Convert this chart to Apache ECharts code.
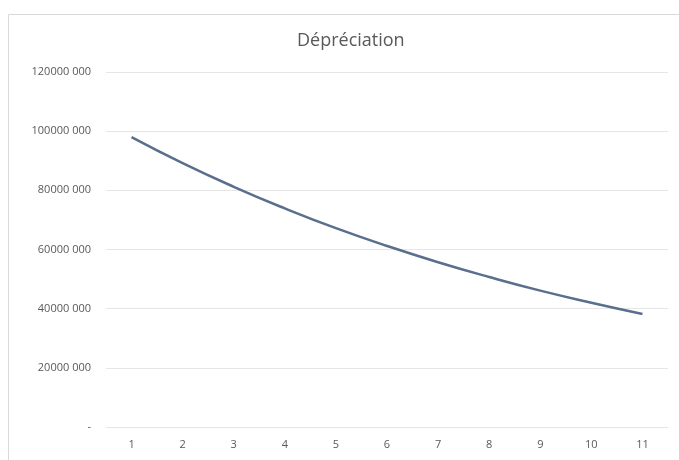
<!DOCTYPE html>
<html>
<head>
<meta charset="utf-8">
<script src="https://cdn.jsdelivr.net/npm/echarts@6/dist/echarts.min.js"></script>
<style>html,body{margin:0;padding:0;background:#fff;}#c{width:679px;height:460px;}</style>
</head>
<body>
<div id="c"></div>
<script>
var categories = ['1','2','3','4','5','6','7','8','9','10','11'];
var values = [98000000, 89200000, 81200000, 73900000, 67200000, 61200000, 55700000, 50700000, 46100000, 42000000, 38200000];
var titleText = 'Dépréciation';

var chart = echarts.init(document.getElementById('c'));
chart.setOption({
  animation: false,
  backgroundColor: '#fff',
  graphic: [{
    type: 'rect', left: 6, top: 12, shape: {width: 700, height: 470},
    style: {fill: 'none', stroke: '#d9d9d9', lineWidth: 1}, silent: true
  }],
  title: {
    text: titleText, left: 292, top: 27,
    textStyle: {fontFamily: 'Open Sans', fontSize: 18, fontWeight: 'normal', color: '#595959'}
  },
  grid: {left: 106, right: 11, top: 72, bottom: 33},
  xAxis: {
    type: 'category', data: categories, boundaryGap: true,
    axisLine: {show: false}, axisTick: {show: false},
    axisLabel: {fontFamily: 'Open Sans', fontSize: 11, color: '#595959', margin: 12}
  },
  yAxis: {
    type: 'value', min: 0, max: 120000000, interval: 20000000,
    axisLine: {show: false}, axisTick: {show: false},
    splitLine: {lineStyle: {color: '#e6e6e6', width: 1}},
    axisLabel: {
      fontFamily: 'Open Sans', fontSize: 11, color: '#595959', margin: 15,
      formatter: function (v) { return v === 0 ? '-' : Math.round(v / 1000) + ' 000'; }
    }
  },
  series: [{
    type: 'line', data: values, smooth: true, showSymbol: false,
    lineStyle: {color: '#5a6e8e', width: 2.5}
  }]
});
</script>
</body>
</html>
